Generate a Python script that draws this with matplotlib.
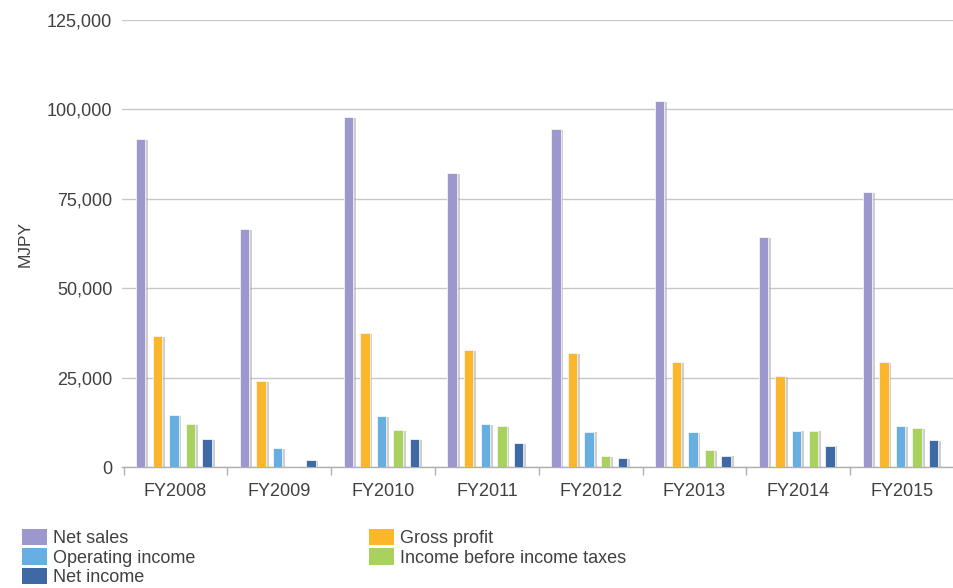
import matplotlib
matplotlib.use("Agg")
import matplotlib.pyplot as plt
import matplotlib.patheffects as pe
from matplotlib.ticker import FuncFormatter, MultipleLocator
from matplotlib.patches import Patch
import numpy as np

plt.rcParams['font.family'] = ['Liberation Sans', 'DejaVu Sans']

years = ["FY2008", "FY2009", "FY2010", "FY2011", "FY2012", "FY2013", "FY2014", "FY2015"]
net_sales = [91700, 66500, 97900, 82200, 94500, 102300, 64300, 76900]
gross_profit = [36600, 24000, 37500, 32700, 31900, 29400, 25400, 29400]
operating_income = [14500, 5300, 14300, 12000, 9900, 9800, 10200, 11500]
income_before_taxes = [12000, 300, 10300, 11500, 3100, 4800, 10200, 10900]
net_income = [7800, 2000, 7800, 6700, 2600, 3200, 6000, 7500]

series = [
    ("Net sales", net_sales, "#9c98cd"),
    ("Gross profit", gross_profit, "#fbb62c"),
    ("Operating income", operating_income, "#66afe0"),
    ("Income before income taxes", income_before_taxes, "#a8d15e"),
    ("Net income", net_income, "#3d6aa5"),
]

text_color = "#404040"
grid_color = "#c8c8c8"
fs = 13

fig = plt.figure(figsize=(9.54, 5.88), dpi=100)
ax = fig.add_axes([122 / 954, 1 - 467 / 588, (954 - 122) / 954, (467 - 20) / 588])

x = np.arange(len(years))
width = 0.09
step = 0.16
shadow = [pe.SimplePatchShadow(offset=(2.0, -0.6), shadow_rgbFace="#b0b0b0", alpha=0.6),
          pe.Normal()]
for i, (name, vals, col) in enumerate(series):
    ax.bar(x + (i - 2) * step - 0.015, vals, width, color=col, label=name,
           edgecolor="#f4f4f4", linewidth=0.6, path_effects=shadow, zorder=3)

ax.set_ylim(0, 125000)
ax.set_xlim(-0.515, 7.425)
ax.yaxis.set_major_locator(MultipleLocator(25000))
ax.yaxis.set_major_formatter(FuncFormatter(lambda v, p: f"{int(v):,}"))
ax.grid(axis="y", color=grid_color, linewidth=1.0, zorder=0)
ax.tick_params(axis="y", length=0, pad=7, labelsize=fs, labelcolor=text_color)

ax.set_xticks(x)
ax.set_xticklabels(years)
ax.set_xticks(np.arange(-0.5, len(years), 1.0), minor=True)
ax.tick_params(axis="x", which="major", length=0, pad=11.5, labelsize=fs, labelcolor=text_color)
ax.tick_params(axis="x", which="minor", length=6, color="#b0b0b0", width=1.0)

for s in ["top", "right", "left"]:
    ax.spines[s].set_visible(False)
ax.spines["bottom"].set_color("#b0b0b0")
ax.spines["bottom"].set_linewidth(1.0)

ax.set_ylabel("MJPY", fontsize=12.5, color=text_color)
ax.yaxis.set_label_coords(-89 / 832, 0.5)

# legend: two columns, filled column-wise
order = [0, 2, 4, 1, 3]
handles = [Patch(facecolor=series[k][2], edgecolor="none") for k in order]
labels = [series[k][0] for k in order]
fig.legend(handles, labels, ncol=2, loc="upper left",
           bbox_to_anchor=(22 / 954, 1 - 529 / 588), frameon=False, borderpad=0,
           fontsize=fs, labelcolor=text_color, handlelength=1.38, handleheight=1.0,
           handletextpad=0.35, columnspacing=9.6, labelspacing=0.06, borderaxespad=0)

fig.savefig("out.png", dpi=100)
